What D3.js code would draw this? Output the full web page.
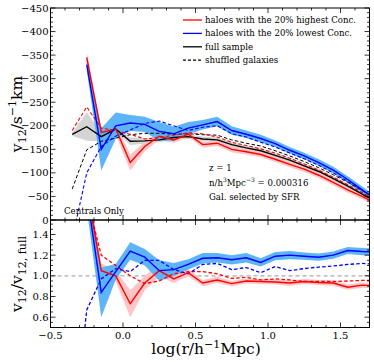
<!DOCTYPE html>
<meta charset="utf-8">
<style>
body { margin: 0; background: #fff; }
text { font-family: "DejaVu Serif", serif; }
</style>
<body>
<script src="https://d3js.org/d3.v7.min.js"></script>
<script>
// log(r) bins
var logR = [-0.35,-0.25,-0.15,-0.05,0.05,0.15,0.25,0.35,0.45,0.55,0.65,0.75,0.85,0.95,1.05,1.15,1.25,1.35,1.45,1.55,1.65,1.75];

// top panel: v12 in km/s
var vFull    = [-182,-198,-177,-193,-167,-168,-170,-175,-177,-172,-170,-160,-153,-147,-137,-127,-115,-103,-88,-72,-55,-38];
var vFullErr = [3,30,10,6,8,6,5,5,5,5,5,5,5,5,5,5,5,5,5,5,5,5];
var vHigh    = [null,-345,-186,-193,-122,-156,-178,-170,-182,-160,-163,-150,-145,-139,-129,-118,-108,-95,-80,-64,-50,-34];
var vHighErr = [null,10,12,12,17,10,8,6,6,6,6,6,6,6,6,6,6,6,6,6,6,6];
var vLow     = [null,-330,-150,-200,-206,-203,-188,-183,-195,-202,-209,-190,-182,-173,-162,-148,-136,-122,-106,-86,-64,-42];
var vLowErr  = [null,12,45,28,17,16,20,15,13,10,10,9,8,8,7,7,7,7,7,7,7,7];
var vShufFull = [-66,-149,-167,-174,-181,-184,-184,-182,-183,-181,-180,-170,-163,-157,-147,-136,-124,-111,-96,-80,-62,-45];
var vShufHigh = [-190,-240,-195,-190,-182,-172,-175,-180,-185,-183,-176,-165,-158,-151,-142,-131,-119,-106,-91,-75,-58,-41];
var vShufLow  = [40,-100,-156,-178,-191,-205,-210,-200,-190,-197,-200,-183,-176,-165,-155,-142,-130,-116,-100,-82,-63,-44];

// bottom panel: ratio to full sample
var rHigh    = [null,1.85,1.05,1.0,0.73,0.93,1.05,0.97,1.03,0.93,0.96,0.925,0.95,0.945,0.94,0.93,0.945,0.935,0.93,0.89,0.91,0.90];
var rHighErr = [null,0.15,0.07,0.055,0.13,0.07,0.06,0.04,0.035,0.03,0.03,0.025,0.025,0.025,0.025,0.025,0.025,0.025,0.025,0.025,0.025,0.025];
var rLow     = [null,1.8,0.84,1.04,1.24,1.18,1.05,1.06,1.11,1.17,1.175,1.155,1.175,1.13,1.19,1.2,1.19,1.18,1.2,1.245,1.235,1.23];
var rLowErr  = [null,0.15,0.24,0.075,0.085,0.08,0.1,0.065,0.05,0.05,0.045,0.045,0.045,0.04,0.04,0.04,0.035,0.035,0.035,0.035,0.035,0.035];
var rShufHigh = [2.9,1.75,1.2,1.1,1.0,0.925,0.95,1.02,1.04,1.04,1.02,0.975,0.985,0.96,0.97,0.96,0.945,0.945,0.945,0.95,0.955,0.955];
var rShufLow  = [-0.65,0.67,0.97,1.07,1.04,1.15,1.15,1.06,1.02,1.11,1.12,1.06,1.08,1.03,1.09,1.05,1.07,1.085,1.095,1.11,1.12,1.11];

var legendLabels = ["haloes with the 20% highest Conc.", "haloes with the 20% lowest Conc.", "full sample", "shuffled galaxies"];

var W = 374, H = 362;
var left = 50.5, right = 369.5;
var top1 = 8, bot1 = 220, bot2 = 327.5;

var svg = d3.select("body").append("svg").attr("width", W).attr("height", H);

var x = d3.scaleLinear().domain([-0.5, 1.7]).range([left, right]);
var y1 = d3.scaleLinear().domain([-450, 0]).range([top1, bot1]);
var y2 = d3.scaleLinear().domain([0.5, 1.54]).range([bot2, bot1]);

var red = "#ff0000", blue = "#0000ff";
var pink = "#ffc4c4", skyblue = "#5db4f8", grey = "#d4d4d4";

svg.append("clipPath").attr("id", "c1").append("rect")
  .attr("x", left).attr("y", top1).attr("width", right - left).attr("height", bot1 - top1);
svg.append("clipPath").attr("id", "c2").append("rect")
  .attr("x", left).attr("y", bot1).attr("width", right - left).attr("height", bot2 - bot1);

var g1 = svg.append("g").attr("clip-path", "url(#c1)");
var g2 = svg.append("g").attr("clip-path", "url(#c2)");

function idx(arr) {
  return d3.range(arr.length).filter(function(i){ return arr[i] != null; });
}

function band(g, y, vals, errs, color) {
  var area = d3.area()
    .x(function(i){ return x(logR[i]); })
    .y0(function(i){ return y(vals[i] - errs[i]); })
    .y1(function(i){ return y(vals[i] + errs[i]); });
  g.append("path").datum(idx(vals)).attr("d", area).attr("fill", color).attr("stroke", "none");
}

function line(g, y, vals, color, dashed, w) {
  var ln = d3.line()
    .x(function(i){ return x(logR[i]); })
    .y(function(i){ return y(vals[i]); });
  g.append("path").datum(idx(vals)).attr("d", ln)
    .attr("fill", "none").attr("stroke", color)
    .attr("stroke-width", w || 1.4)
    .attr("stroke-dasharray", dashed ? "3.5,2.2" : null);
}

// top panel
band(g1, y1, vFull, vFullErr, grey);
band(g1, y1, vHigh, vHighErr, pink);
band(g1, y1, vLow, vLowErr, skyblue);
line(g1, y1, vShufFull, "#000", true, 1);
line(g1, y1, vShufHigh, red, true, 1.1);
line(g1, y1, vShufLow, blue, true, 1.1);
line(g1, y1, vFull, "#000");
line(g1, y1, vHigh, red);
line(g1, y1, vLow, blue);

// bottom panel
g2.append("line").attr("x1", left).attr("x2", right)
  .attr("y1", y2(1)).attr("y2", y2(1))
  .attr("stroke", "#aaa").attr("stroke-width", 1.2).attr("stroke-dasharray", "4,3");
band(g2, y2, rHigh, rHighErr, pink);
band(g2, y2, rLow, rLowErr, skyblue);
line(g2, y2, rShufHigh, red, true, 1.3);
line(g2, y2, rShufLow, blue, true, 1.3);
line(g2, y2, rHigh, red);
line(g2, y2, rLow, blue);

// axes, ticks inside on all sides
function frame(y, yTop, yBot, majors, minors, fmt) {
  svg.append("rect").attr("x", left).attr("y", yTop).attr("width", right - left).attr("height", yBot - yTop)
    .attr("fill", "none").attr("stroke", "#000").attr("stroke-width", 1);
  var t = svg.append("g").attr("stroke", "#000").attr("stroke-width", 0.8);
  majors.forEach(function(v) {
    t.append("line").attr("x1", left).attr("x2", left + 5).attr("y1", y(v)).attr("y2", y(v));
    t.append("line").attr("x1", right).attr("x2", right - 5).attr("y1", y(v)).attr("y2", y(v));
  });
  minors.forEach(function(v) {
    t.append("line").attr("x1", left).attr("x2", left + 2.5).attr("y1", y(v)).attr("y2", y(v));
    t.append("line").attr("x1", right).attr("x2", right - 2.5).attr("y1", y(v)).attr("y2", y(v));
  });
  d3.range(-0.5, 1.71, 0.1).forEach(function(v) {
    var major = Math.abs(v * 2 - Math.round(v * 2)) < 1e-6;
    var len = major ? 5 : 2.5;
    t.append("line").attr("x1", x(v)).attr("x2", x(v)).attr("y1", yTop).attr("y2", yTop + len);
    t.append("line").attr("x1", x(v)).attr("x2", x(v)).attr("y1", yBot).attr("y2", yBot - len);
  });
  svg.append("g").selectAll("text").data(majors).join("text")
    .attr("x", left - 2).attr("y", function(d){ return y(d); })
    .attr("dy", "0.35em").attr("text-anchor", "end")
    .attr("font-size", 10).text(fmt);
}

var yTicks1 = d3.range(-450, 1, 50);
var yMinor1 = d3.range(-450, 1, 10).filter(function(v){ return v % 50 != 0; });
frame(y1, top1, bot1, yTicks1, yMinor1, function(d){ return d3.format("d")(d).replace("-", "\u2212"); });

var yTicks2 = [0.6, 0.8, 1.0, 1.2, 1.4];
var yMinor2 = d3.range(0.55, 1.54, 0.05).filter(function(v){ return Math.abs(v * 5 - Math.round(v * 5)) > 1e-6; });
frame(y2, bot1, bot2, yTicks2, yMinor2, d3.format(".1f"));

// x tick labels
svg.append("g").selectAll("text").data([-0.5, 0, 0.5, 1.0, 1.5]).join("text")
  .attr("x", function(d){ return x(d); }).attr("y", bot2 + 11)
  .attr("text-anchor", "middle").attr("font-size", 10)
  .text(function(d){ return d3.format(".1f")(d).replace("-", "\u2212"); });

// axis labels
var xl = svg.append("text").attr("x", 206).attr("y", 354).attr("text-anchor", "middle").attr("font-size", 15.5);
xl.append("tspan").text("log(r/h");
xl.append("tspan").attr("dy", -6).attr("font-size", 11).text("\u22121");
xl.append("tspan").attr("dy", 6).text("Mpc)");

var yl1 = svg.append("text").attr("transform", "translate(22,114) rotate(-90)").attr("text-anchor", "middle").attr("font-size", 15.5);
yl1.append("tspan").text("v");
yl1.append("tspan").attr("dy", 4).attr("font-size", 11).text("12");
yl1.append("tspan").attr("dy", -4).text("/s");
yl1.append("tspan").attr("dy", -6).attr("font-size", 11).text("\u22121");
yl1.append("tspan").attr("dy", 6).text("km");

var yl2 = svg.append("text").attr("transform", "translate(22,274) rotate(-90)").attr("text-anchor", "middle").attr("font-size", 15.5);
yl2.append("tspan").text("v");
yl2.append("tspan").attr("dy", 4).attr("font-size", 11).text("12");
yl2.append("tspan").attr("dy", -4).text("/v");
yl2.append("tspan").attr("dy", 4).attr("font-size", 11).text("12, full");

// legend
var legColors = [red, blue, "#000", "#000"];
var legDash = [null, null, null, "3,2"];
var leg = svg.append("g");
legendLabels.forEach(function(lab, i) {
  var yy = 20 + i * 13.4;
  leg.append("line").attr("x1", 183).attr("x2", 202).attr("y1", yy).attr("y2", yy)
    .attr("stroke", legColors[i]).attr("stroke-width", 1.3).attr("stroke-dasharray", legDash[i]);
  leg.append("text").attr("x", 205).attr("y", yy).attr("dy", "0.35em").attr("font-size", 8.6).text(lab);
});

// annotations
svg.append("text").attr("x", 209).attr("y", 171).attr("font-size", 8.6).text("z = 1");
var nt = svg.append("text").attr("x", 209).attr("y", 185.5).attr("font-size", 8.6);
nt.append("tspan").text("n/h");
nt.append("tspan").attr("dy", -3.5).attr("font-size", 6).text("3");
nt.append("tspan").attr("dy", 3.5).text("Mpc");
nt.append("tspan").attr("dy", -3.5).attr("font-size", 6).text("\u22123");
nt.append("tspan").attr("dy", 3.5).text(" = 0.000316");
svg.append("text").attr("x", 209).attr("y", 200).attr("font-size", 8.6).text("Gal. selected by SFR");
svg.append("text").attr("x", 64).attr("y", 213.5).attr("font-size", 8.6).text("Centrals Only");
</script>
